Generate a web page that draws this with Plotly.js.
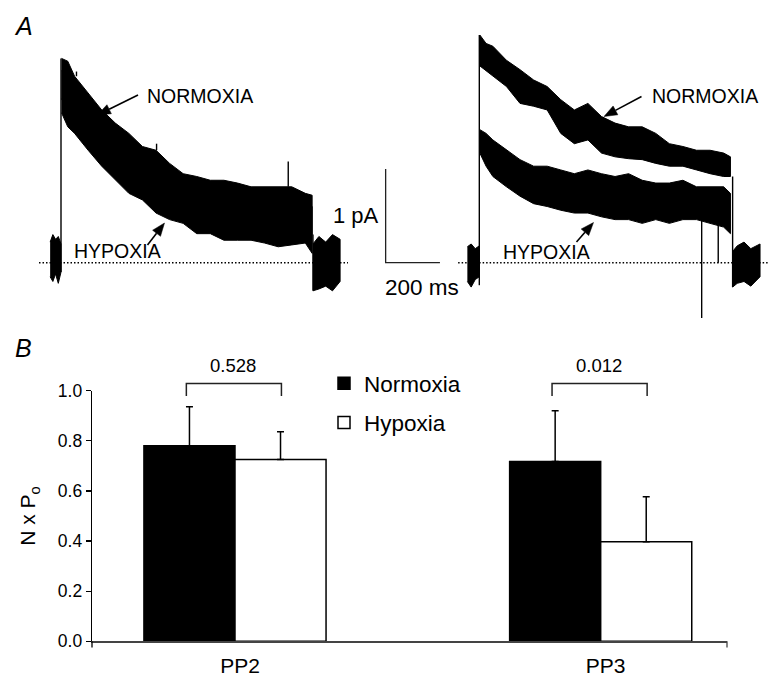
<!DOCTYPE html>
<html>
<head>
<meta charset="utf-8">
<script src="https://cdn.plot.ly/plotly-3.0.1.min.js"></script>
<style>html,body{margin:0;padding:0;background:#fff;}#chart{width:769px;height:681px;}</style>
</head>
<body>
<div id="chart"></div>
<script>
// ---------- Panel B data ----------
const categories = ['PP2', 'PP3'];
const normoxiaMean = [0.78, 0.717];
const normoxiaSEM  = [0.156, 0.203];
const hypoxiaMean  = [0.725, 0.397];
const hypoxiaSEM   = [0.111, 0.180];
const pValues      = ['0.528', '0.012'];

// ---------- Panel A data (time in ms from pulse onset, current in pA) ----------
const tTrace = [2, 25, 50, 100, 150, 200, 250, 300, 350, 400, 450, 500, 550, 600, 650, 700, 750, 800, 850, 900, 925];
// left recording (upper / lower envelope of the noisy trace)
const leftNormHi = [2.18, 2.15, 1.99, 1.81, 1.63, 1.49, 1.38, 1.24, 1.20, 1.06, 0.95, 0.92, 0.88, 0.88, 0.85, 0.81, 0.81, 0.81, 0.81, 0.74, 0.72];
const leftNormLo = [1.75, 1.62, 1.55, 1.36, 1.20, 1.05, 0.92, 0.83, 0.72, 0.64, 0.58, 0.50, 0.48, 0.43, 0.42, 0.41, 0.39, 0.36, 0.37, 0.38, 0.30];
const leftHypHi  = [2.05, 1.98, 1.84, 1.66, 1.48, 1.33, 1.22, 1.08, 1.03, 0.92, 0.84, 0.80, 0.76, 0.74, 0.72, 0.70, 0.68, 0.69, 0.68, 0.64, 0.60];
const leftHypLo  = [1.60, 1.45, 1.38, 1.20, 1.03, 0.88, 0.74, 0.67, 0.53, 0.46, 0.42, 0.31, 0.31, 0.24, 0.24, 0.24, 0.21, 0.17, 0.19, 0.21, 0.10];
// right recording
const rightNormHi = [2.43, 2.34, 2.31, 2.16, 2.06, 1.95, 1.88, 1.74, 1.63, 1.70, 1.56, 1.49, 1.45, 1.45, 1.38, 1.27, 1.24, 1.20, 1.20, 1.17, 1.13];
const rightNormLo = [2.10, 2.04, 1.99, 1.88, 1.70, 1.67, 1.63, 1.38, 1.27, 1.31, 1.17, 1.13, 1.11, 1.10, 1.06, 1.03, 1.03, 0.99, 0.95, 0.92, 0.92];
const rightHypHi  = [1.42, 1.38, 1.31, 1.20, 1.10, 1.03, 1.03, 0.99, 0.95, 0.99, 0.95, 0.92, 0.95, 0.88, 0.85, 0.85, 0.88, 0.81, 0.81, 0.81, 0.74];
const rightHypLo  = [1.17, 1.03, 0.92, 0.81, 0.71, 0.63, 0.60, 0.56, 0.53, 0.53, 0.49, 0.46, 0.46, 0.42, 0.46, 0.42, 0.46, 0.46, 0.42, 0.38, 0.31];
// baseline noise before and after the pulse
const leftPreT  = [-40, -30, -20, -10, 0];
const leftPreHi = [0.22, 0.30, 0.25, 0.28, 0.20];
const leftPreLo = [-0.15, -0.20, -0.12, -0.22, -0.10];
const leftPostT  = [928, 950, 975, 1000, 1028];
const leftPostHi = [0.20, 0.28, 0.22, 0.30, 0.25];
const leftPostLo = [-0.30, -0.28, -0.25, -0.30, -0.20];
const rightPreT  = [-44, -30, -15, 0];
const rightPreHi = [0.17, 0.20, 0.15, 0.18];
const rightPreLo = [-0.20, -0.26, -0.18, -0.15];
const rightPostT  = [933, 950, 975, 1000, 1034];
const rightPostHi = [0.12, 0.18, 0.22, 0.15, 0.20];
const rightPostLo = [-0.26, -0.22, -0.20, -0.25, -0.15];
// pulse edges (onset / offset) and single spikes
const leftEdgeT = [0, 928];   const leftEdgeFrom = [-0.10, 0.30];  const leftEdgeTo = [2.18, -0.30];
const rightEdgeT = [0, 933];  const rightEdgeFrom = [-0.24, 0.92]; const rightEdgeTo = [2.43, -0.26];
const leftSpikeT = [57, 352, 837];  const leftSpikeFrom = [1.99, 1.20, 0.81]; const leftSpikeTo = [2.04, 1.27, 1.08];
const rightSpikeT = [819, 880];     const rightSpikeFrom = [0.67, 0.60];      const rightSpikeTo = [-0.59, 0.00];
// scale bar
const scaleBarTime = 200;   // ms
const scaleBarCurrent = 1;  // pA
const baselineLeftT = [-81, 1057];
const baselineRightT = [-78, 1067];

// ---------- helpers ----------
function band(t, hi, lo, xa, name) {
  return {
    x: t.concat(t.slice().reverse()),
    y: hi.concat(lo.slice().reverse()),
    xaxis: xa, yaxis: 'y2', mode: 'lines', fill: 'toself',
    fillcolor: '#000', line: {color: '#000', width: 1},
    showlegend: false, hoverinfo: 'skip', name: name
  };
}
function segs(t, from, to, xa) {
  const x = [], y = [];
  t.forEach((v, i) => { x.push(v, v, null); y.push(from[i], to[i], null); });
  return {x, y, xaxis: xa, yaxis: 'y2', mode: 'lines', line: {color: '#000', width: 1.4},
          showlegend: false, hoverinfo: 'skip'};
}

const traces = [
  // Panel B bars
  {type: 'bar', name: 'Normoxia', x: categories, y: normoxiaMean,
   marker: {color: '#000', line: {color: '#000', width: 1.5}},
   error_y: {type: 'data', array: normoxiaSEM, arrayminus: [0, 0], symmetric: false, color: '#000', thickness: 1.5, width: 3.5},
   legendgroup: 'n', xaxis: 'x', yaxis: 'y'},
  {type: 'bar', name: 'Hypoxia', x: categories, y: hypoxiaMean,
   marker: {color: '#fff', line: {color: '#000', width: 1.5}},
   error_y: {type: 'data', array: hypoxiaSEM, arrayminus: [0, 0], symmetric: false, color: '#000', thickness: 1.5, width: 3.5},
   legendgroup: 'h', xaxis: 'x', yaxis: 'y'},
  // Panel A baselines
  {x: baselineLeftT, y: [0, 0], xaxis: 'x2', yaxis: 'y2', mode: 'lines',
   line: {color: '#000', width: 1.5, dash: '1.5px,2px'}, showlegend: false, hoverinfo: 'skip'},
  {x: baselineRightT, y: [0, 0], xaxis: 'x3', yaxis: 'y2', mode: 'lines',
   line: {color: '#000', width: 1.5, dash: '1.5px,2px'}, showlegend: false, hoverinfo: 'skip'},
  // left recording
  band(leftPreT, leftPreHi, leftPreLo, 'x2'),
  band(tTrace, leftNormHi, leftNormLo, 'x2', 'Normoxia left'),
  band(tTrace, leftHypHi, leftHypLo, 'x2', 'Hypoxia left'),
  band(leftPostT, leftPostHi, leftPostLo, 'x2'),
  segs(leftEdgeT, leftEdgeFrom, leftEdgeTo, 'x2'),
  segs(leftSpikeT, leftSpikeFrom, leftSpikeTo, 'x2'),
  // right recording
  band(rightPreT, rightPreHi, rightPreLo, 'x3'),
  band(tTrace, rightNormHi, rightNormLo, 'x3', 'Normoxia right'),
  band(tTrace, rightHypHi, rightHypLo, 'x3', 'Hypoxia right'),
  band(rightPostT, rightPostHi, rightPostLo, 'x3'),
  segs(rightEdgeT, rightEdgeFrom, rightEdgeTo, 'x3'),
  segs(rightSpikeT, rightSpikeFrom, rightSpikeTo, 'x3'),
  // scale bar
  {x: [-345, -345, -345 + scaleBarTime], y: [scaleBarCurrent, 0, 0], xaxis: 'x3', yaxis: 'y2', mode: 'lines',
   line: {color: '#222', width: 1.3}, showlegend: false, hoverinfo: 'skip'}
];

const W = 769, H = 681;
const px = v => v / W, py = v => 1 - v / H;
const F = 'Liberation Sans, Arial, Helvetica, sans-serif';

const annotations = [
  {text: '<i>A</i>', xref: 'paper', yref: 'paper', x: px(12), y: py(26), xanchor: 'left', yanchor: 'middle', showarrow: false, font: {size: 25}},
  {text: '<i>B</i>', xref: 'paper', yref: 'paper', x: px(13), y: py(348), xanchor: 'left', yanchor: 'middle', showarrow: false, font: {size: 25}},
  {text: 'NORMOXIA', xref: 'paper', yref: 'paper', x: px(200), y: py(96), xanchor: 'center', yanchor: 'middle', showarrow: false, font: {size: 19.5}},
  {text: 'HYPOXIA', xref: 'paper', yref: 'paper', x: px(117), y: py(251), xanchor: 'center', yanchor: 'middle', showarrow: false, font: {size: 19.5}},
  {text: 'NORMOXIA', xref: 'paper', yref: 'paper', x: px(705), y: py(96), xanchor: 'center', yanchor: 'middle', showarrow: false, font: {size: 19.5}},
  {text: 'HYPOXIA', xref: 'paper', yref: 'paper', x: px(546), y: py(252), xanchor: 'center', yanchor: 'middle', showarrow: false, font: {size: 19.5}},
  {text: '1 pA', xref: 'paper', yref: 'paper', x: px(381), y: py(215), xanchor: 'right', yanchor: 'middle', showarrow: false, font: {size: 22}},
  {text: '200 ms', xref: 'paper', yref: 'paper', x: px(383), y: py(288), xanchor: 'left', yanchor: 'middle', showarrow: false, font: {size: 22.5}}
];
const shapes = [];
// label arrows (tail -> head, pixel positions)
const arrowsPx = [[138, 95, 97.5, 115], [147.5, 245, 164.5, 223], [641.5, 96.5, 604, 116.5], [576.5, 242, 593.5, 222.5]];
arrowsPx.forEach(([tx, ty, hx, hy]) => {
  const L = Math.hypot(hx - tx, hy - ty), ux = (hx - tx) / L, uy = (hy - ty) / L;
  const bx = hx - 13 * ux, by = hy - 13 * uy, nx = -uy, ny = ux;
  shapes.push({type: 'line', xref: 'paper', yref: 'paper', x0: px(tx), y0: py(ty), x1: px(bx), y1: py(by), line: {color: '#000', width: 1.6}});
  shapes.push({type: 'path', xref: 'paper', yref: 'paper',
               path: `M ${px(hx)} ${py(hy)} L ${px(bx + 5 * nx)} ${py(by + 5 * ny)} L ${px(bx - 5 * nx)} ${py(by - 5 * ny)} Z`,
               fillcolor: '#000', line: {color: '#000', width: 0.5}});
});
categories.forEach((c, i) => {
  annotations.push({text: pValues[i], xref: 'x', yref: 'paper', x: i - 0.005, y: py(366), xanchor: 'center', yanchor: 'middle',
                    showarrow: false, font: {size: 18.5}});
  shapes.push({type: 'path', xref: 'x', yref: 'paper',
               path: `M ${i - 0.133} ${py(396)} L ${i - 0.133} ${py(383.5)} L ${i + 0.127} ${py(383.5)} L ${i + 0.127} ${py(396)}`,
               line: {color: '#222', width: 1.5}});
});
// end tick marks of the category axis
shapes.push({type: 'line', xref: 'paper', yref: 'paper', x0: px(92), x1: px(92), y0: py(641.3), y1: py(647.5), line: {color: '#000', width: 1.3}});
shapes.push({type: 'line', xref: 'paper', yref: 'paper', x0: px(727), x1: px(727), y0: py(641.3), y1: py(647.5), line: {color: '#444', width: 1.3}});

const layout = {
  width: W, height: H,
  margin: {l: 0, r: 0, t: 0, b: 0},
  paper_bgcolor: '#fff', plot_bgcolor: 'rgba(0,0,0,0)',
  font: {family: F, color: '#000', size: 16},
  barmode: 'group', bargap: 0.502, bargroupgap: 0,
  showlegend: true,
  legend: {x: px(324), y: py(362), xanchor: 'left', yanchor: 'top', bgcolor: 'rgba(0,0,0,0)',
           font: {size: 22.5}, traceorder: 'grouped', tracegroupgap: 7, borderwidth: 0},
  xaxis: {domain: [px(92), px(727)], range: [-0.391, 1.3454], type: 'category', anchor: 'y',
          showline: true, linecolor: '#444', linewidth: 1.3, ticks: '', showgrid: false, zeroline: false,
          tickfont: {size: 21}, ticklabelstandoff: 5, ticklabelshift: 5, fixedrange: true},
  yaxis: {domain: [py(641.3), py(390.7)], range: [0, 1], anchor: 'x',
          tickvals: [0, 0.2, 0.4, 0.6, 0.8, 1.0], tickformat: '.1f', ticks: 'outside', ticklen: 5, tickwidth: 1.3, tickcolor: '#000',
          showline: true, linecolor: '#000', linewidth: 1.3, showgrid: false, zeroline: false,
          tickfont: {size: 17.5}, title: {text: 'N x P<sub>o</sub>', font: {size: 21}, standoff: 16}},
  xaxis2: {domain: [px(30), px(355)], range: [-114.2, 1082.9], anchor: 'y2', visible: false},
  xaxis3: {domain: [px(370), 1], range: [-402.6, 1067.0], anchor: 'y2', visible: false},
  yaxis2: {domain: [py(330), py(20)], range: [-0.718, 2.590], anchor: 'x2', visible: false},
  annotations: annotations,
  shapes: shapes
};

Plotly.newPlot('chart', traces, layout, {displayModeBar: false, staticPlot: true});
</script>
</body>
</html>
